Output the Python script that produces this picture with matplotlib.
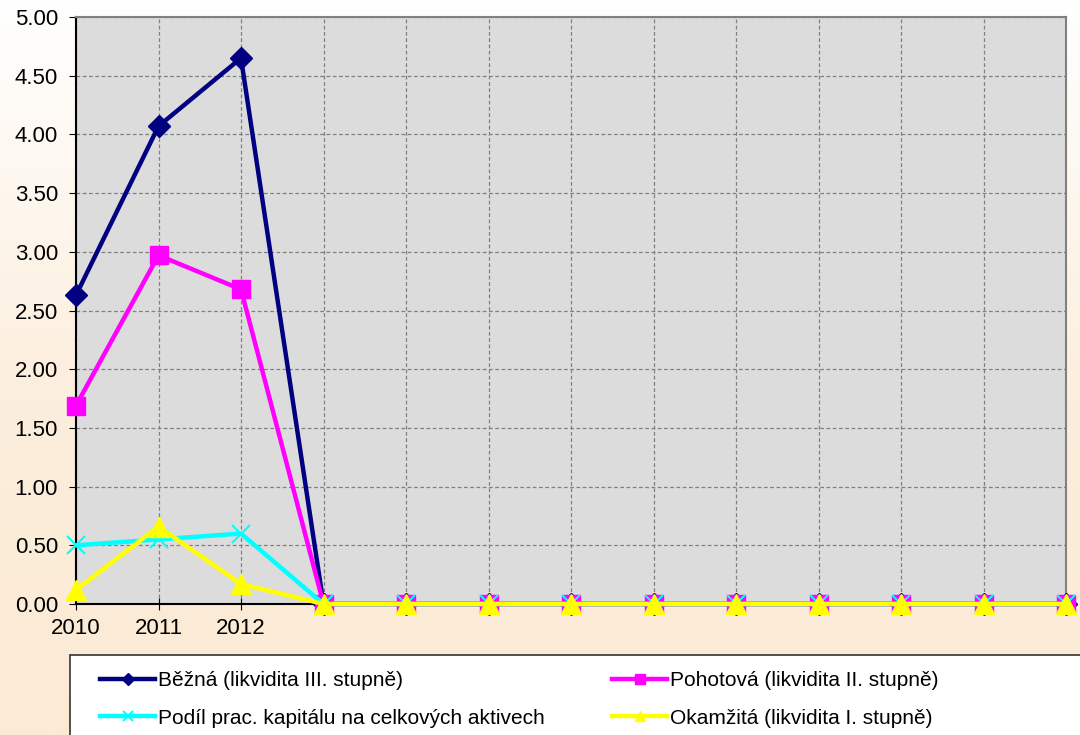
import matplotlib
matplotlib.use('Agg')
import matplotlib.pyplot as plt
import numpy as np
from matplotlib.colors import LinearSegmentedColormap
from matplotlib.patches import Rectangle

plt.rcParams['font.family'] = ['Liberation Sans', 'DejaVu Sans']

# 13 category slots, only the first three have labels
x_labels = ['2010', '2011', '2012', '', '', '', '', '', '', '', '', '', '']

bezna = [2.63, 4.07, 4.65, 0, 0, 0, 0, 0, 0, 0, 0, 0, 0]
pohotova = [1.69, 2.97, 2.68, 0, 0, 0, 0, 0, 0, 0, 0, 0, 0]
podil = [0.50, 0.55, 0.60, 0, 0, 0, 0, 0, 0, 0, 0, 0, 0]
okamzita = [0.12, 0.66, 0.17, 0, 0, 0, 0, 0, 0, 0, 0, 0, 0]

series_names = ['Běžná (likvidita III. stupně)',
                'Pohotová (likvidita II. stupně)',
                'Podíl prac. kapitálu na celkových aktivech',
                'Okamžitá (likvidita I. stupně)']

W, H = 1080, 735
fig = plt.figure(figsize=(W / 100, H / 100), dpi=100)

# background gradient
bg = fig.add_axes([0, 0, 1, 1], zorder=-10)
cmap = LinearSegmentedColormap.from_list('bg', [(0, '#FFFFFF'), (0.55, '#FCEEDC'), (1, '#FBEAD4')])
grad = np.linspace(0, 1, 256).reshape(-1, 1)
bg.imshow(grad, aspect='auto', cmap=cmap, extent=[0, 1, 0, 1], origin='upper')
bg.axis('off')

ax = fig.add_axes([76 / W, 1 - 604 / H, 990 / W, 587 / H])
ax.set_facecolor('#DCDCDC')

x = np.arange(len(x_labels))
lw = 3.2
h1, = ax.plot(x, bezna, color='#000080', lw=lw, marker='D', ms=11, clip_on=False, zorder=3)
h2, = ax.plot(x, pohotova, color='#FF00FF', lw=lw, marker='s', ms=13, clip_on=False, zorder=4)
h3, = ax.plot(x, podil, color='#00FFFF', lw=lw, marker='x', ms=13, mew=1.5, clip_on=False, zorder=5)
h4, = ax.plot(x, okamzita, color='#FFFF00', lw=lw, marker='^', ms=14, clip_on=False, zorder=6)

ax.set_xlim(0, 12)
ax.set_ylim(0, 5)
ax.set_xticks(x)
ax.set_xticklabels(x_labels)
ax.set_yticks(np.arange(0, 5.01, 0.5))
ax.set_yticklabels([f'{v:.2f}' for v in np.arange(0, 5.01, 0.5)])
ax.tick_params(axis='both', labelsize=16, length=5, color='black', direction='out')
ax.tick_params(axis='y', pad=8)
ax.tick_params(axis='x', direction='inout', length=8, pad=6)

ax.grid(True, color='#808080', linestyle=(0, (3, 2)), linewidth=0.9)
ax.set_axisbelow(True)
ax.spines['left'].set_color('black')
ax.spines['bottom'].set_color('black')
ax.spines['top'].set_color('#808080')
ax.spines['right'].set_color('#808080')
for s in ax.spines.values():
    s.set_linewidth(1.5)

# legend box runs off the right and bottom edge
fig.patches.append(Rectangle((70 / W, -0.05), 1.0, 0.05 + 1 - 655 / H,
                             transform=fig.transFigure, facecolor='white',
                             edgecolor='#333333', linewidth=1.2, zorder=1))

leg_kw = dict(loc='upper left', frameon=False, fontsize=15, markerscale=0.55,
              handlelength=2.65, handletextpad=0.15, borderpad=0,
              borderaxespad=0, labelspacing=0.9)
leg1 = fig.legend([h1, h3], [series_names[0], series_names[2]],
                  bbox_to_anchor=(100 / W, 1 - 671 / H), **leg_kw)
leg2 = fig.legend([h2, h4], [series_names[1], series_names[3]],
                  bbox_to_anchor=(612 / W, 1 - 671 / H), **leg_kw)
leg1.set_zorder(2)
leg2.set_zorder(2)

plt.savefig('out.png', dpi=100)
